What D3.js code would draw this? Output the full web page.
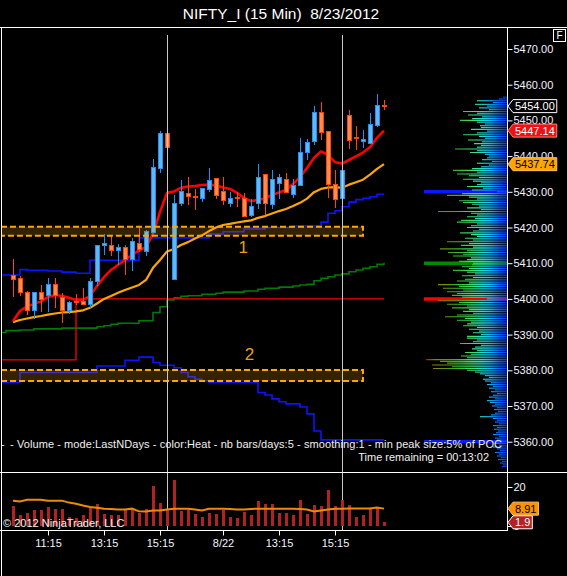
<!DOCTYPE html>
<html><head><meta charset="utf-8">
<script src="https://cdn.jsdelivr.net/npm/d3@7"></script>
<style>
html,body{margin:0;padding:0;background:#000;}
svg{display:block;}
text{font-family:"Liberation Sans", Arial, sans-serif;}
</style></head><body>
<svg id="c" width="567" height="576"></svg>
<script>
// ---------------- DATA ----------------
const title = "NIFTY_I (15 Min)\u00a0\u00a08/23/2012";
// bar index 0 = 8/21 10:00 ... 53 = 8/23 10:45
const opens  = [5406.6,5405.6,5401.7,5396.8,5401.8,5400.9,5403.9,5400.5,5396.8,5399.2,5399.2,5398.5,5405.0,5414.9,5415.0,5413.6,5414.5,5411.1,5415.6,5413.2,5418.7,5436.5,5446.4,
                5405.5,5426.7,5429.6,5428.8,5428.1,5430.7,5433.8,5430.1,5426.8,5428.4,5428.1,5423.4,5426.6,5434.9,5426.5,5432.4,5433.5,5429.3,5431.9,5441.1,5444.0,5452.3,5446.8,5432.1,5428.2,
                5451.3,5445.1,5444.0,5443.6,5448.5,5454.3];
const highs  = [5411.2,5406.4,5402.2,5402.0,5403.9,5405.9,5405.9,5401.6,5399.4,5401.3,5403.0,5405.8,5415.1,5418.2,5417.6,5415.3,5415.1,5417.0,5420.1,5419.3,5439.1,5447.1,5447.3,
                5429.1,5433.3,5434.1,5430.8,5431.0,5436.7,5433.8,5434.1,5429.9,5429.9,5429.6,5428.1,5437.8,5434.9,5436.0,5435.0,5435.4,5433.5,5445.2,5444.7,5454.0,5455.2,5446.8,5436.1,5436.0,
                5452.9,5448.4,5447.2,5452.0,5457.3,5455.7];
const lows   = [5400.6,5400.8,5395.5,5394.3,5396.4,5396.4,5397.4,5393.2,5395.7,5398.3,5398.3,5397.2,5403.7,5412.3,5412.0,5409.5,5406.8,5407.8,5413.2,5412.1,5418.5,5435.2,5439.1,
                5405.5,5426.0,5426.3,5424.9,5427.2,5430.0,5428.0,5426.2,5425.8,5425.8,5423.1,5423.0,5425.1,5423.5,5425.1,5428.1,5429.7,5428.2,5431.9,5438.9,5443.1,5444.5,5428.2,5425.4,5428.2,
                5442.0,5441.7,5442.2,5443.6,5448.2,5452.9];
const closes = [5405.5,5401.8,5396.7,5401.7,5399.9,5403.9,5400.9,5396.7,5399.0,5398.9,5398.5,5404.8,5415.0,5415.6,5413.5,5414.3,5410.9,5416.0,5413.9,5418.8,5436.9,5446.4,5442.5,
                5426.8,5430.2,5428.7,5428.4,5431.0,5433.2,5429.0,5427.5,5428.2,5428.0,5423.1,5425.9,5434.1,5426.8,5433.5,5434.1,5429.8,5431.9,5441.1,5443.9,5452.3,5446.7,5432.1,5427.9,5436.0,
                5444.5,5444.8,5444.7,5448.9,5454.3,5454.0];
const emaFast = [5393.8,5396.6,5397.9,5398.6,5399.3,5400.5,5401.1,5400.8,5400.3,5399.7,5399.7,5400.8,5403.6,5406.1,5408.1,5409.5,5410.9,5412.3,5413.6,5414.5,5418.2,5424.3,5429.7,
                 5430.1,5431.1,5431.5,5431.6,5431.9,5432.0,5431.8,5431.2,5430.8,5429.7,5428.3,5427.4,5427.7,5428.1,5429.1,5429.8,5430.5,5432.2,5434.1,5436.7,5439.5,5441.3,5440.3,5438.3,5437.9,
                 5438.9,5439.9,5441.0,5442.5,5445.1,5447.14];
const emaSlow = [5393.5,5394.1,5394.5,5394.9,5395.2,5395.6,5395.9,5396.2,5396.3,5396.5,5396.8,5397.5,5398.7,5400.0,5400.8,5401.7,5402.5,5403.2,5403.9,5405.3,5408.7,5410.9,5413.3,
                 5414.0,5415.1,5415.9,5416.9,5417.8,5419.0,5420.0,5420.7,5421.0,5421.4,5421.7,5422.0,5422.7,5423.2,5423.9,5424.6,5425.2,5426.0,5426.9,5428.1,5429.9,5430.8,5431.2,5431.3,5431.1,
                 5432.0,5432.7,5433.4,5434.8,5436.4,5437.74];
const volumes = [10.5,5.5,6.8,8,8,9.7,8.5,8.5,4.7,4,5.5,9.3,11.5,6,5.5,5.5,8,9.3,6.8,8.5,20.5,11.8,8.5,
                 23.5,7.7,8,6,4.7,6.5,6,8,4.7,4,7.2,5.5,13,11.5,11.5,6.8,6.8,5.5,13.5,6,11,10.5,18.5,10.5,13.2,
                 11,4.7,5.5,8.8,9.3,1.9];
const volumeMA = [13.0,12.6,13.5,13.5,13.5,13.0,13.0,13.0,12.0,11.4,10.5,9.7,9.3,8.9,8.7,8.5,8.5,8.9,7.5,7.4,8.0,8.0,8.5,
                  8.9,8.9,8.9,8.5,8.0,8.8,8.9,8.9,8.7,8.5,8.5,8.7,8.9,8.9,8.9,8.9,8.9,8.9,8.7,8.5,7.5,8.0,8.5,8.9,8.9,
                  9.0,9.0,9.0,9.0,9.5,8.91];
// step lines: [bar index where value starts, value]
const blueUpBars = [-2,1,2,5,7,9,11,18,28,30,33,36,40,44,45,46,47,48,49,50,51,52,53];
const blueUpVals = [5406.7,5408.2,5408.0,5407.8,5407.5,5407.2,5410.8,5417.1,5418.2,5418.8,5419.6,5420.0,5420.4,5421.5,5424.0,5424.7,5425.8,5427.1,5427.8,5428.2,5428.6,5429.3,5429.3];
const blueLoBars = [-2,1,12,16,18,20,21,23,24,25,26,27,28,35,36,37,38,39,41,42,43,44,53];
const blueLoVals = [5376.6,5379.4,5381.2,5382.8,5383.7,5382.2,5381.4,5380.7,5379.4,5378.2,5377.5,5377.0,5376.6,5373.8,5373.1,5372.0,5371.2,5370.6,5369.7,5367.8,5363.0,5360.5,5360.5];
const greenBars = [-2,-1,1,3,7,12,13,14,15,18,20,21,22,23,24,25,27,29,30,33,35,36,38,40,41,42,43,44,45,46,47,48,49,50,51,52,53];
const greenVals = [5390.6,5391.1,5391.3,5391.6,5391.8,5392.2,5392.5,5392.9,5393.2,5393.9,5396.2,5397.8,5399.7,5400.3,5400.7,5400.9,5401.3,5401.6,5401.9,5402.2,5402.7,5403.0,5403.3,5403.6,5403.9,5404.1,5405.1,5405.8,5406.2,5406.7,5407.0,5407.6,5408.1,5408.6,5409.0,5409.7,5410.1];
const redStepBars = [-2,9,53];
const redStepVals = [5382.9,5400.0,5400.0];
// zones
const zoneTops = [5420.2, 5380.1];
const zoneBottoms = [5417.7, 5377.0];
const zoneStartBar = -3, zoneEndBar = 50;
const zoneLabels = ["1","2"];
const zoneLabelBars = [32.9, 33.8];
const zoneLabelPrices = [5414.7, 5384.7];
// session breaks
const sessionBars = [22, 47];
// time axis
const timeTickBars = [5,13,21,30,38,46];
const timeTickLabels = ["11:15","13:15","15:15","8/22","13:15","15:15"];
// price axis
const priceTicks = [5470,5460,5450,5440,5430,5420,5410,5400,5390,5380,5370,5360];
const volTicks = [20, 0];
// volume profile (price levels from 5456.5 down by 0.5)
const profTop = 5456.5, profStep = 0.5;
const profVals = [
 4,8,30,14,32,20,28,18,44,30,
 39,25,35,47,30,22,27,26,36,20,
 30,44,28,22,39,25,33,26,30,52,
 30,37,22,18,20,25,15,30,18,26,
 35,54,30,50,38,28,44,34,26,30,
 40,24,35,10,45,60,38,30,48,44,
 35,28,40,26,69,36,30,40,32,46,
 50,30,36,40,28,34,47,36,30,42,
 34,60,38,46,34,67,40,59,44,54,
 36,40,48,34,35,45,38,54,40,32,
 45,34,42,50,38,69,48,64,44,60,
 50,55,45,20,69,48,60,40,55,38,
 44,34,50,62,42,50,36,40,44,30,
 38,28,34,26,40,40,30,34,47,26,
 32,35,30,42,36,46,40,81,67,60,
 75,55,74,40,32,27,22,18,24,22,
 16,20,14,18,12,16,10,14,18,12,
 20,17,12,15,10,13,9,12,16,27,
 14,10,12,8,14,10,13,9,11,14,
 8,12,10,10,12,8,14,10,7,12,
 8,10,6,9,5,7,4,5];
const peakPrices = [5430, 5410, 5400, 5360];
const peakVals = [83, 83, 83, 83];
const peakColors = ["#0c18ff", "#008a00", "#ff0000", "#0c18ff"];
// tags
const lastPrice = 5454.00;
const lastVolMA = 8.91, lastVol = 1.9;
const infoText = "- Volume - mode:LastNDays  - color:Heat - nb bars/days:5 - smoothing:1 - min peak size:5% of POC";
const timeText = "Time remaining = 00:13:02";
const copyright = "\u00a9 2012 NinjaTrader, LLC";

// ---------------- CHART ----------------
const W = 567, H = 576;
const svg = d3.select("#c");
svg.append("rect").attr("width", W).attr("height", H).attr("fill", "#000");

const x = d3.scaleLinear().domain([0, 53]).range([13, 384]);
const y = d3.scaleLinear().domain([5470, 5360]).range([49, 441.7]);
const yv = d3.scaleLinear().domain([0, 20]).range([526, 487]);
const xp = d3.scaleLinear().domain([0, 83]).range([507, 424]);

const defs = svg.append("defs");
defs.append("clipPath").attr("id", "clipP").append("rect").attr("x", 2).attr("y", 28).attr("width", 505).attr("height", 444);
defs.append("clipPath").attr("id", "clipV").append("rect").attr("x", 2).attr("y", 473).attr("width", 505).attr("height", 57);
const grad = defs.append("linearGradient").attr("id", "heat").attr("gradientUnits", "userSpaceOnUse")
  .attr("x1", 507).attr("x2", 424).attr("y1", 0).attr("y2", 0);
[[0,"#0a30ff"],[0.1,"#0a6cff"],[0.2,"#10b8ff"],[0.3,"#20e0d0"],[0.42,"#40e070"],[0.58,"#30c030"],[0.72,"#5a9a00"],[0.85,"#8a8a00"],[1,"#a01010"]]
  .forEach(s => grad.append("stop").attr("offset", s[0]).attr("stop-color", s[1]));

const gP = svg.append("g").attr("clip-path", "url(#clipP)");

// volume profile
gP.append("g").selectAll("line").data(peakPrices).join("line")
  .attr("x1", (d,i) => xp(peakVals[i])).attr("x2", xp(0))
  .attr("y1", d => y(d)).attr("y2", d => y(d))
  .attr("stroke", (d,i) => peakColors[i]).attr("stroke-width", 3.5);
gP.append("g").selectAll("line").data(profVals).join("line")
  .attr("x1", d => xp(d)).attr("x2", xp(0))
  .attr("y1", (d,k) => y(profTop - k*profStep)).attr("y2", (d,k) => y(profTop - k*profStep))
  .attr("stroke", "url(#heat)").attr("stroke-width", 1.1);

// session lines
svg.append("g").selectAll("line").data(sessionBars).join("line")
  .attr("x1", d => x(d)+0.5).attr("x2", d => x(d)+0.5).attr("y1", 35).attr("y2", 530)
  .attr("stroke", "#c8c8c8").attr("stroke-width", 1);

// step lines
const stepLine = d3.line().x(d => x(d[0])).y(d => y(d[1])).curve(d3.curveStepAfter);
function drawStep(bars, vals, color, w) {
  gP.append("path").datum(bars.map((b,i) => [b, vals[i]]))
    .attr("d", stepLine).attr("fill", "none").attr("stroke", color).attr("stroke-width", w);
}
drawStep(greenBars, greenVals, "#007a00", 1.6);
drawStep(blueUpBars, blueUpVals, "#0a14ff", 1.6);
drawStep(blueLoBars, blueLoVals, "#0a14ff", 1.6);
drawStep(redStepBars, redStepVals, "#ff0000", 1.3);

// EMAs
const emaLine = d3.line().x((d,i) => x(i)).y(d => y(d)).curve(d3.curveLinear);
gP.append("path").datum(emaSlow).attr("d", emaLine).attr("fill","none").attr("stroke","#ffa500").attr("stroke-width",2.2).attr("stroke-linejoin","round");
gP.append("path").datum(emaFast).attr("d", emaLine).attr("fill","none").attr("stroke","#ff0000").attr("stroke-width",2.6).attr("stroke-linejoin","round");

// candles
const cg = gP.append("g").attr("shape-rendering", "crispEdges");
const idx = d3.range(opens.length);
cg.selectAll("line").data(idx).join("line")
  .attr("x1", i => Math.round(x(i))+0.5).attr("x2", i => Math.round(x(i))+0.5)
  .attr("y1", i => y(highs[i])).attr("y2", i => y(lows[i]))
  .attr("stroke", i => closes[i] >= opens[i] ? "#1e90ff" : "#ff4500").attr("stroke-width", 1);
cg.selectAll("rect").data(idx).join("rect")
  .attr("x", i => Math.round(x(i)) - 1.5).attr("width", 4)
  .attr("y", i => y(Math.max(opens[i], closes[i])))
  .attr("height", i => Math.max(1, Math.abs(y(opens[i]) - y(closes[i]))))
  .attr("fill", i => closes[i] >= opens[i] ? "#63b8f4" : "#ff8c55")
  .attr("stroke", i => closes[i] >= opens[i] ? "#1e90ff" : "#ff4500").attr("stroke-width", 1);

// zones
zoneTops.forEach((t, k) => {
  const x0 = x(zoneStartBar), x1 = x(zoneEndBar);
  gP.append("rect").attr("x", x0).attr("y", y(t)).attr("width", x1 - x0).attr("height", y(zoneBottoms[k]) - y(t))
    .attr("fill", "rgba(255,165,0,0.2)").attr("stroke", "#ffa500").attr("stroke-width", 2)
    .attr("stroke-dasharray", "6,3");
  gP.append("text").attr("x", x(zoneLabelBars[k])).attr("y", y(zoneLabelPrices[k])).attr("dy", "0.36em")
    .attr("text-anchor", "middle").attr("font-size", 17).attr("fill", "#e8a010").text(zoneLabels[k]);
});

// info texts
svg.append("text").attr("x", 1).attr("y", 447.5).attr("font-size", 11).attr("fill", "#f0f0f0").text("-");
svg.append("text").attr("x", 10).attr("y", 447.5).attr("font-size", 11).attr("fill", "#f0f0f0")
  .attr("textLength", 492).attr("lengthAdjust", "spacing").text(infoText);
svg.append("text").attr("x", 489).attr("y", 461).attr("text-anchor", "end").attr("font-size", 11).attr("fill", "#f0f0f0").text(timeText);

// volume panel
const gV = svg.append("g").attr("clip-path", "url(#clipV)");
gV.append("g").attr("shape-rendering", "crispEdges").selectAll("rect").data(volumes).join("rect")
  .attr("x", (d,i) => Math.round(x(i)) - 1).attr("width", 3)
  .attr("y", d => yv(d)).attr("height", d => yv(0) - yv(d)).attr("fill", "#b22222");
gV.append("path").datum(volumeMA).attr("d", d3.line().x((d,i) => x(i)).y(d => yv(d)))
  .attr("fill", "none").attr("stroke", "#f08a00").attr("stroke-width", 2);

svg.append("text").attr("x", 3).attr("y", 527).attr("font-size", 11).attr("fill", "#f0f0f0").text(copyright);

// frame lines
const frame = svg.append("g").attr("stroke", "#ffffff").attr("stroke-width", 1).attr("shape-rendering", "crispEdges");
frame.append("line").attr("x1", 0).attr("x2", W).attr("y1", 27.5).attr("y2", 27.5);
frame.append("line").attr("x1", 0).attr("x2", W).attr("y1", 472.5).attr("y2", 472.5);
frame.append("line").attr("x1", 0).attr("x2", 507).attr("y1", 530.5).attr("y2", 530.5);
frame.append("line").attr("x1", 1.5).attr("x2", 1.5).attr("y1", 27).attr("y2", H);
frame.append("line").attr("x1", 507.5).attr("x2", 507.5).attr("y1", 27).attr("y2", 531);

// price axis
const pAx = svg.append("g").attr("transform", "translate(507.5,0)")
  .call(d3.axisRight(y).tickValues(priceTicks).tickFormat(d3.format(".2f")).tickSize(5).tickPadding(1));
pAx.select(".domain").remove();
pAx.selectAll("line").attr("stroke", "#fff");
pAx.selectAll("text").attr("fill", "#f0f4ff").attr("font-size", 11).attr("font-family", "Liberation Sans, Arial, sans-serif");

const vAx = svg.append("g").attr("transform", "translate(507.5,0)")
  .call(d3.axisRight(yv).tickValues(volTicks).tickFormat(d3.format("d")).tickSize(5).tickPadding(1));
vAx.select(".domain").remove();
vAx.selectAll("line").attr("stroke", "#fff");
vAx.selectAll("text").attr("fill", "#f0f4ff").attr("font-size", 11).attr("font-family", "Liberation Sans, Arial, sans-serif");

// time axis
const tAx = svg.append("g").attr("transform", "translate(0,530.5)")
  .call(d3.axisBottom(x).tickValues(timeTickBars).tickFormat((d,i) => timeTickLabels[i]).tickSize(5).tickPadding(4));
tAx.select(".domain").remove();
tAx.selectAll("line").attr("stroke", "#fff");
tAx.selectAll("text").attr("fill", "#f0f4ff").attr("font-size", 11).attr("font-family", "Liberation Sans, Arial, sans-serif");

// tags
function tag(yc, label, fill, stroke, color) {
  const g = svg.append("g");
  const h = 6.5;
  const t = g.append("text").attr("x", 515).attr("y", yc).attr("dy", "0.36em").attr("font-size", 11).attr("fill", color).text(label);
  const w = t.node().getComputedTextLength() + 4;
  g.insert("path", "text").attr("d", `M508,${yc} L513,${yc-h} L${513+w},${yc-h} L${513+w},${yc+h} L513,${yc+h} Z`)
    .attr("fill", fill).attr("stroke", stroke).attr("stroke-width", 1);
}
tag(y(lastPrice), d3.format(".2f")(lastPrice), "#000", "#ffffff", "#ffffff");
tag(y(emaFast[emaFast.length-1]), d3.format(".2f")(emaFast[emaFast.length-1]), "#ee1111", "#ff8080", "#ffffff");
tag(y(emaSlow[emaSlow.length-1]), d3.format(".2f")(emaSlow[emaSlow.length-1]), "#ffa500", "#ffc060", "#000000");
tag(yv(lastVolMA), String(lastVolMA), "#ff9000", "#ffc060", "#000000");
tag(yv(lastVol), String(lastVol), "#b22222", "#ffffff", "#ffffff");

// F box
svg.append("rect").attr("x", 553.5).attr("y", 29.5).attr("width", 12).attr("height", 12)
  .attr("fill", "#000").attr("stroke", "#fff").attr("stroke-width", 1);
svg.append("text").attr("x", 559.5).attr("y", 39).attr("text-anchor", "middle").attr("font-size", 10).attr("fill", "#fff").text("F");

// title
svg.append("text").attr("x", 281).attr("y", 19).attr("text-anchor", "middle").attr("font-size", 15.5).attr("fill", "#ffffff").text(title);
</script>
</body></html>
